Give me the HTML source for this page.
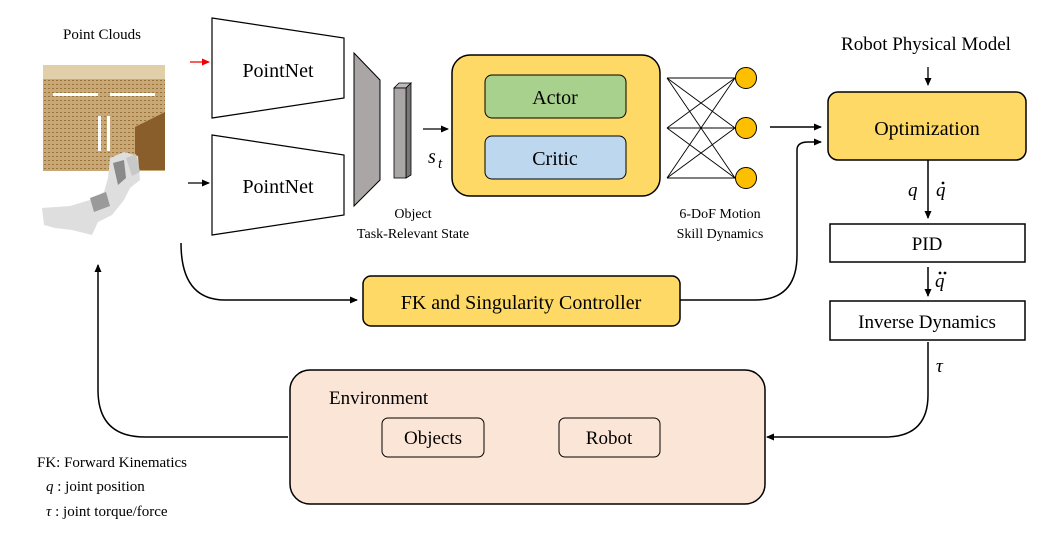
<!DOCTYPE html>
<html><head><meta charset="utf-8"><style>
html,body{margin:0;padding:0;background:#fff;}
svg{display:block;}
text{font-family:"Liberation Serif",serif;fill:#000;}
</style></head><body>
<svg width="1064" height="542" viewBox="0 0 1064 542" xmlns="http://www.w3.org/2000/svg">
<defs>
<marker id="a" markerWidth="8" markerHeight="8" refX="7" refY="4" orient="auto" markerUnits="userSpaceOnUse"><path d="M0,0.5 L8,4 L0,7.5 Z" fill="#000"/></marker>
<marker id="ar" markerWidth="8" markerHeight="8" refX="7" refY="4" orient="auto" markerUnits="userSpaceOnUse"><path d="M0,0.5 L8,4 L0,7.5 Z" fill="#e00"/></marker>
<pattern id="wood" width="4" height="4" patternUnits="userSpaceOnUse"><rect width="4" height="4" fill="#c9a877"/><rect width="2" height="1" fill="#9a7238"/></pattern>
</defs>
<text x="102" y="39" font-size="15" text-anchor="middle">Point Clouds</text>
<rect x="43" y="65" width="122" height="16" fill="#e0cfa8"/>
<rect x="43" y="79" width="122" height="92" fill="url(#wood)"/>
<path d="M135,127 L165,112 L165,170 L135,170 Z" fill="#8a5e2a"/>
<rect x="53" y="93" width="45" height="3" fill="#fff"/><rect x="110" y="93" width="45" height="3" fill="#fff"/>
<rect x="98" y="116" width="3" height="35" fill="#fff"/><rect x="107" y="116" width="3" height="35" fill="#fff"/>
<path d="M110,158 L124,152 L138,156 L140,180 L130,188 L124,200 L112,215 L98,222 L92,235 L72,230 L55,228 L44,225 L42,208 L70,206 L90,200 L104,192 L108,178 Z" fill="#dedede"/>
<path d="M113,163 L124,160 L126,178 L118,185 Z" fill="#8a8a8a"/>
<path d="M90,198 L106,192 L110,206 L94,212 Z" fill="#9a9a9a"/>
<path d="M126,158 L136,154 L140,172 L132,176 Z" fill="#c8c8c8"/>
<line x1="190" y1="62" x2="209" y2="62" stroke="#e00" stroke-width="1.3" marker-end="url(#ar)"/>
<line x1="188" y1="183" x2="209" y2="183" stroke="#000" stroke-width="1.3" marker-end="url(#a)"/>
<polygon points="212,18 344,38 344,98 212,118" fill="#fff" stroke="#000" stroke-width="1.2"/>
<polygon points="212,135 344,155 344,215 212,235" fill="#fff" stroke="#000" stroke-width="1.2"/>
<text x="278" y="77" font-size="20" text-anchor="middle">PointNet</text>
<text x="278" y="193" font-size="20" text-anchor="middle">PointNet</text>
<polygon points="354,53 380,80 380,180 354,206" fill="#aaa6a6" stroke="#000" stroke-width="1"/>
<polygon points="394,88 406,88 411,83 399,83" fill="#bbb" stroke="#000" stroke-width="0.8"/>
<polygon points="406,88 411,83 411,175 406,178" fill="#777" stroke="#000" stroke-width="0.8"/>
<rect x="394" y="88" width="12" height="90" fill="#aaa6a6" stroke="#000" stroke-width="0.8"/>
<text x="413" y="218" font-size="14" text-anchor="middle">Object</text>
<text x="413" y="238" font-size="14" text-anchor="middle">Task-Relevant State</text>
<line x1="423" y1="129" x2="448" y2="129" stroke="#000" stroke-width="1.3" marker-end="url(#a)"/>
<text x="428" y="163" font-size="20" font-style="italic">s</text><text x="438" y="168" font-size="15" font-style="italic">t</text>
<rect x="452" y="55" width="208" height="141" rx="18" fill="#fed966" stroke="#000" stroke-width="1.5"/>
<rect x="485" y="75" width="141" height="43" rx="7" fill="#a9d18e" stroke="#000" stroke-width="1"/>
<rect x="485" y="136" width="141" height="43" rx="7" fill="#bdd7ee" stroke="#000" stroke-width="1"/>
<text x="555" y="104" font-size="20" text-anchor="middle">Actor</text>
<text x="555" y="165" font-size="20" text-anchor="middle">Critic</text>
<g stroke="#000" stroke-width="0.9">
<line x1="667" y1="78" x2="735" y2="78"/><line x1="667" y1="78" x2="735" y2="128"/><line x1="667" y1="78" x2="735" y2="178"/>
<line x1="667" y1="128" x2="735" y2="78"/><line x1="667" y1="128" x2="735" y2="128"/><line x1="667" y1="128" x2="735" y2="178"/>
<line x1="667" y1="178" x2="735" y2="78"/><line x1="667" y1="178" x2="735" y2="128"/><line x1="667" y1="178" x2="735" y2="178"/>
</g>
<circle cx="746" cy="78" r="10.5" fill="#fdbf00" stroke="#000" stroke-width="1"/>
<circle cx="746" cy="128" r="10.5" fill="#fdbf00" stroke="#000" stroke-width="1"/>
<circle cx="746" cy="178" r="10.5" fill="#fdbf00" stroke="#000" stroke-width="1"/>
<text x="720" y="218" font-size="14" text-anchor="middle">6-DoF Motion</text>
<text x="720" y="238" font-size="14" text-anchor="middle">Skill Dynamics</text>
<line x1="770" y1="127" x2="821" y2="127" stroke="#000" stroke-width="1.5" marker-end="url(#a)"/>
<text x="926" y="50" font-size="19" text-anchor="middle">Robot Physical Model</text>
<line x1="928" y1="67" x2="928" y2="85" stroke="#000" stroke-width="1.3" marker-end="url(#a)"/>
<rect x="828" y="92" width="198" height="68" rx="10" fill="#fed966" stroke="#000" stroke-width="1.5"/>
<text x="927" y="135" font-size="20" text-anchor="middle">Optimization</text>
<line x1="928" y1="160" x2="928" y2="218" stroke="#000" stroke-width="1.5" marker-end="url(#a)"/>
<text x="908" y="196" font-size="19" font-style="italic">q</text>
<text x="936" y="196" font-size="19" font-style="italic">q</text><circle cx="943" cy="183" r="1.4" fill="#000"/>
<rect x="830" y="224" width="195" height="38" fill="#fff" stroke="#000" stroke-width="1.5"/>
<text x="927" y="250" font-size="19" text-anchor="middle">PID</text>
<line x1="928" y1="267" x2="928" y2="296" stroke="#000" stroke-width="1.5" marker-end="url(#a)"/>
<text x="935" y="287" font-size="19" font-style="italic">q</text><circle cx="940" cy="273" r="1.4" fill="#000"/><circle cx="945" cy="273" r="1.4" fill="#000"/>
<rect x="830" y="301" width="195" height="39" fill="#fff" stroke="#000" stroke-width="1.5"/>
<text x="927" y="328" font-size="19" text-anchor="middle">Inverse Dynamics</text>
<text x="936" y="372" font-size="19" font-style="italic">τ</text>
<path d="M928,342 L928,395 Q928,437 885,437 L767,437" fill="none" stroke="#000" stroke-width="1.5" marker-end="url(#a)"/>
<path d="M181,243 Q181,300 225,300 L357,300" fill="none" stroke="#000" stroke-width="1.5" marker-end="url(#a)"/>
<rect x="363" y="276" width="317" height="50" rx="8" fill="#fed966" stroke="#000" stroke-width="1.5"/>
<text x="521" y="309" font-size="20" text-anchor="middle">FK and Singularity Controller</text>
<path d="M680,300 L755,300 Q797,300 797,255 L797,150 Q797,142 808,142 L821,142" fill="none" stroke="#000" stroke-width="1.5" marker-end="url(#a)"/>
<rect x="290" y="370" width="475" height="134" rx="20" fill="#fbe5d6" stroke="#000" stroke-width="1.5"/>
<text x="329" y="404" font-size="19">Environment</text>
<rect x="382" y="418" width="102" height="39" rx="6" fill="#fbe5d6" stroke="#000" stroke-width="1"/>
<rect x="559" y="418" width="101" height="39" rx="6" fill="#fbe5d6" stroke="#000" stroke-width="1"/>
<text x="433" y="444" font-size="19" text-anchor="middle">Objects</text>
<text x="609" y="444" font-size="19" text-anchor="middle">Robot</text>
<path d="M288,437 L145,437 Q98,437 98,390 L98,265" fill="none" stroke="#000" stroke-width="1.5" marker-end="url(#a)"/>
<text x="37" y="467" font-size="15">FK: Forward Kinematics</text>
<text x="46" y="491" font-size="15"><tspan font-style="italic">q</tspan> : joint position</text>
<text x="46" y="516" font-size="15"><tspan font-style="italic">τ</tspan> : joint torque/force</text>
</svg>
</body></html>
